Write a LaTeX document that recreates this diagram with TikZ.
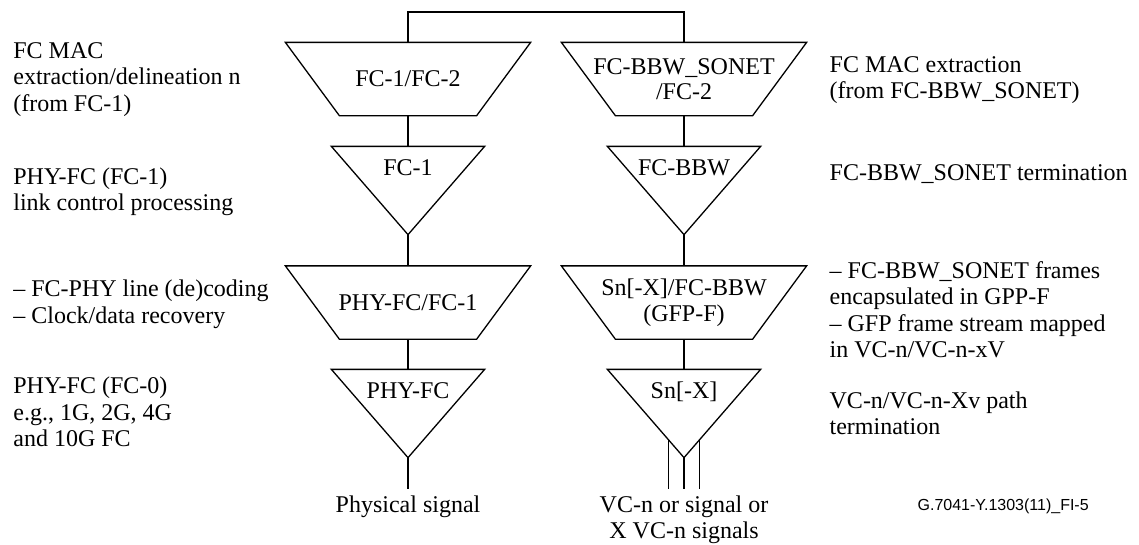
\documentclass[tikz,border=0pt]{standalone}
\usepackage{fontspec}
\setmainfont{Liberation Serif}
\setsansfont{Liberation Sans}
\usetikzlibrary{calc}
\begin{document}
\begin{tikzpicture}[x=1pt,y=-1pt,line width=1.3pt,
  lbl/.style={font=\fontsize{24}{26.5}\selectfont,inner sep=0pt,align=left,anchor=north west},
  trapbox/.style={minimum width=244pt,minimum height=72pt,inner sep=0pt,align=center,font=\fontsize{24}{25.5}\selectfont},
  tribox/.style={minimum width=152pt,minimum height=87pt,inner sep=0pt,text height=28pt,text depth=59pt,font=\fontsize{24}{26}\selectfont},
  sigbox/.style={anchor=north,inner xsep=0pt,inner ysep=6.5pt,align=center,font=\fontsize{24}{25.5}\selectfont},
  conn/.style={draw}
]
\useasboundingbox (0,0) rectangle (1139,544);

% left column
\node[trapbox] (fca) at (408,79) {FC-1/FC-2};
\node[tribox]  (fcb) at (408,190.5) {FC-1};
\node[trapbox] (phya) at (408,302.5) {PHY-FC/FC-1};
\node[tribox]  (phyb) at (408,413.5) {PHY-FC};
\node[sigbox]  (phys) at (408,489) {Physical signal};

% right column
\node[trapbox] (bbwa) at (684,79) {FC-BBW\_SONET\\/FC-2};
\node[tribox]  (bbwb) at (684,190.5) {FC-BBW};
\node[trapbox] (sna) at (684,302.5) {Sn[-X]/FC-BBW\\(GFP-F)};
\node[tribox]  (snb) at (684,413.5) {Sn[-X]};
\node[sigbox]  (vcsig) at (684,489) {VC-n or signal or\\X VC-n signals};

% shapes
\foreach \n in {fca,phya,bbwa,sna}
  \draw (\n.north west) -- (\n.north east) -- ([xshift=-54pt]\n.south east) -- ([xshift=54pt]\n.south west) -- cycle;
\foreach \n in {fcb,phyb,bbwb,snb}
  \draw (\n.north west) -- (\n.north east) -- (\n.south) -- cycle;

% connectors
\coordinate (topbar) at (546,12);
\draw[conn] (fca.north) |- (topbar) -| (bbwa.north);
\draw[conn] (fca.south) -- (fcb.north);
\draw[conn] (fcb.south) -- (phya.north);
\draw[conn] (phya.south) -- (phyb.north);
\draw[conn] (phyb.south) -- (phys.north);
\draw[conn] (bbwa.south) -- (bbwb.north);
\draw[conn] (bbwb.south) -- (sna.north);
\draw[conn] (sna.south) -- (snb.north);
\draw[conn] (snb.south) -- (vcsig.north);
\coordinate (sl) at ($(snb.south)!0.204!(snb.north west)$);
\coordinate (sr) at ($(snb.south)!0.204!(snb.north east)$);
\draw[conn] (sl) -- (sl |- vcsig.north);
\draw[conn] (sr) -- (sr |- vcsig.north);

% left descriptions
\node[lbl] (l1) at (12.7,41.8) {FC MAC\\extraction/delineation n\\(from FC-1)};
\node[lbl] (l2) at (12.7,166.7) {PHY-FC (FC-1)\\link control processing};
\node[lbl] (l3) at (12.7,279.5) {-- FC-PHY line (de)coding\\-- Clock/data recovery};
\node[lbl] (l4) at (12.7,376.5) {PHY-FC (FC-0)\\e.g., 1G, 2G, 4G\\and 10G FC};

% right descriptions
\node[lbl] (r1) at (829,55.7) {FC MAC extraction\\(from FC-BBW\_SONET)};
\node[lbl] (r2) at (829,163.7) {FC-BBW\_SONET termination};
\node[lbl] (r3) at (829,260.7) {-- FC-BBW\_SONET frames\\encapsulated in GPP-F\\-- GFP frame stream mapped\\in VC-n/VC-n-xV};
\node[lbl] (r4) at (829,390.7) {VC-n/VC-n-Xv path\\termination};

\node[anchor=base west,inner sep=0pt,font=\sffamily\fontsize{16}{18}\selectfont] (fig) at (917,510) {G.7041-Y.1303(11)\_FI-5};
\end{tikzpicture}
\end{document}
